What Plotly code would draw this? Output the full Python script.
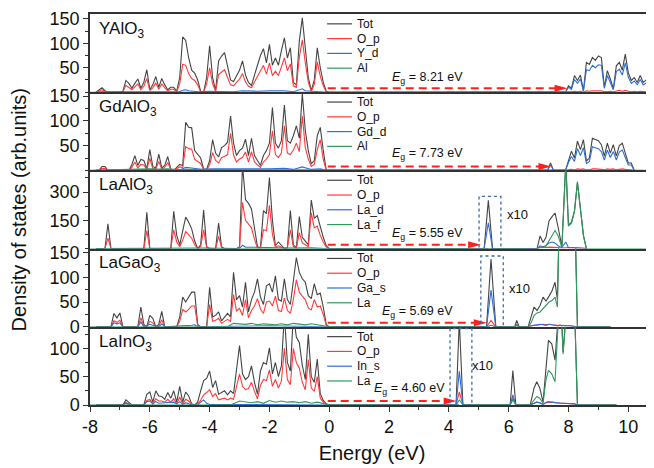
import plotly.graph_objects as go
from plotly.subplots import make_subplots

# ---------------- data ----------------
VB_E = [round(-7.8 + 0.1 * i, 1) for i in range(79)]  # valence-band energy grid (eV)

PANELS = ["YAlO<sub>3</sub>", "GdAlO<sub>3</sub>", "LaAlO<sub>3</sub>", "LaGaO<sub>3</sub>", "LaInO<sub>3</sub>"]
SERIES_NAMES = [["Tot", "O_p", "Y_d", "Al"], ["Tot", "O_p", "Gd_d", "Al"], ["Tot", "O_p", "La_d", "La_f"],
                ["Tot", "O_p", "Ga_s", "La"], ["Tot", "O_p", "In_s", "La"]]
EG = ["8.21", "7.73", "5.55", "5.69", "4.60"]

# ---- YAlO3
tot1_vb = [0, 5, 9, 3, 0, 0, 0, 0, 0,
           2, 24, 18, 8, 18, 27, 8, 20, 46, 5,
           15, 32, 10, 28, 15, 5, 10, 10, 2, 30,
           113, 106, 70, 45, 39, 25, 2, 0, 30, 95,
           30, 3, 64, 74, 81, 50, 25, 22, 35, 45,
           64, 35, 20, 14, 35, 55, 75, 89, 60, 98,
           55, 70, 55, 85, 111, 70, 91, 20, 15, 105,
           152, 90, 30, 3, 25, 91, 50, 20, 2, 0]
op1_vb = [0, 3, 5, 2, 0, 0, 0, 0, 0,
          1, 14, 10, 5, 11, 17, 5, 12, 28, 3,
          9, 19, 6, 17, 9, 3, 6, 6, 1, 17,
          57, 55, 38, 28, 24, 15, 1, 0, 17, 50,
          17, 2, 36, 42, 46, 30, 15, 13, 20, 27,
          38, 21, 12, 9, 21, 33, 45, 55, 37, 60,
          34, 43, 34, 53, 70, 44, 58, 13, 10, 72,
          107, 60, 20, 2, 16, 62, 33, 13, 1, 0]
x1_vb_e = [-7.8, -7.6, -6.8, -6.4, -6.1, -5.8, -5.0, -4.9, -4.8, -4.7, -4.4, -4.0, -3.6, -3.2, -2.9, -2.4, -2.0,
           -1.5, -1.2, -1.0, -0.9, -0.8, -0.4, -0.1]
x1_vb = [0, 1, 1, 1, 2, 1, 1, 4, 5, 3, 1, 2, 2, 1, 3, 2, 3, 3, 1, 4, 7, 3, 2, 0]
cb1_e = [7.9, 8.0, 8.1, 8.2, 8.3, 8.4, 8.5, 8.6, 8.7, 8.8, 8.9, 9.0, 9.1, 9.2, 9.3, 9.4, 9.5, 9.6, 9.7, 9.8,
         9.9, 10.0, 10.1, 10.2, 10.3, 10.4, 10.5, 10.6, 10.7]
tot1_cb = [0, 13, 8, 34, 24, 35, 3, 61, 57, 71, 65, 74, 71, 10, 44, 27, 7, 54, 61, 45, 78, 40, 24, 30, 20, 34, 20, 25, 3]
op1_cb = [0, 1, 1, 2, 1, 2, 0, 3, 2, 3, 3, 4, 3, 1, 2, 2, 1, 3, 4, 2, 4, 2, 1, 2, 1, 2, 1, 1, 0]
x1_cb = [0, 10, 6, 26, 18, 27, 2, 46, 44, 55, 50, 56, 55, 8, 34, 21, 5, 42, 47, 35, 60, 31, 18, 23, 15, 26, 15, 19, 2]
g1_e = [-8.0, -6.1, -4.8, -3.5, -2.0, -0.9, 0.0, 8.6, 9.0, 9.9, 10.86]
g1 = [0, 0, 1, 0, 1, 1, 0, 0, 1, 1, 0]

# ---- GdAlO3
tot2_vb = [0, 0, 8, 8, 0, 0, 0, 0, 0,
           0, 0, 0, 12, 30, 10, 22, 20, 3, 42,
           8, 5, 33, 5, 10, 28, 3, 0, 7, 12,
           10, 97, 87, 86, 40, 33, 25, 3, 2, 20,
           62, 35, 27, 46, 50, 57, 110, 55, 30, 40,
           45, 63, 30, 65, 30, 20, 10, 30, 40, 55,
           127, 55, 45, 60, 132, 60, 55, 70, 90, 65,
           155, 80, 40, 13, 20, 70, 87, 40, 0, 0]
op2_vb = [0, 0, 4, 4, 0, 0, 0, 0, 0,
          0, 0, 0, 6, 17, 5, 12, 11, 2, 24,
          4, 3, 18, 3, 6, 16, 2, 0, 4, 7,
          6, 48, 44, 43, 22, 18, 14, 2, 1, 11,
          36, 20, 15, 26, 28, 32, 75, 31, 17, 23,
          26, 37, 17, 38, 17, 11, 6, 17, 23, 32,
          80, 32, 26, 35, 90, 35, 32, 41, 55, 38,
          110, 46, 23, 8, 12, 42, 62, 22, 0, 0]
x2_vb_e = [-7.8, -6.5, -6.0, -5.7, -5.0, -4.8, -4.6, -4.3, -3.9, -3.3, -2.8, -2.0, -1.5, -1.2, -0.9, -0.6, -0.3, -0.1]
x2_vb = [0, 2, 3, 2, 1, 6, 5, 2, 3, 3, 2, 3, 4, 2, 7, 2, 3, 0]
cb2_e = [7.3, 7.4, 7.5, 7.9, 8.0, 8.1, 8.2, 8.3, 8.4, 8.5, 8.6, 8.7, 8.8, 8.9, 9.0, 9.1, 9.2, 9.3, 9.4, 9.5,
         9.6, 9.7, 9.8, 9.9, 10.0, 10.1, 10.2]
tot2_cb = [0, 15, 0, 0, 22, 39, 25, 59, 42, 62, 19, 25, 65, 62, 60, 52, 29, 55, 35, 52, 29, 50, 55, 35, 15, 15, 0]
op2_cb = [0, 1, 0, 0, 1, 2, 1, 3, 2, 3, 1, 1, 3, 3, 3, 2, 1, 3, 2, 3, 1, 2, 3, 2, 1, 1, 0]
x2_cb = [0, 12, 0, 0, 16, 28, 18, 44, 30, 46, 14, 18, 48, 46, 44, 38, 21, 41, 26, 38, 21, 37, 41, 26, 11, 11, 0]
g2_e = [-8.0, -6.5, -6.3, -6.0, -5.7, -5.4, -5.0, -4.8, -2.0, -0.9, 0.0, 10.86]
g2 = [0, 2, 3, 3, 2, 3, 1, 2, 1, 1, 0, 0]

# ---- LaAlO3
tot3_vb = [0, 0, 0, 0, 132, 0, 0, 0, 0,
           0, 0, 0, 0, 0, 0, 0, 0, 193, 0,
           0, 0, 0, 0, 0, 0, 0, 198, 70, 20,
           90, 167, 140, 105, 40, 0, 20, 205, 10, 0,
           0, 0, 135, 10, 0, 0, 0, 0, 0, 10,
           440, 260, 240, 210, 105, 10, 5, 202, 185, 377,
           150, 15, 35, 15, 0, 5, 202, 20, 5, 170,
           60, 40, 20, 258, 160, 175, 110, 60, 15, 0]
op3_vb = [0, 0, 0, 0, 56, 0, 0, 0, 0,
          0, 0, 0, 0, 0, 0, 0, 0, 95, 0,
          0, 0, 0, 0, 0, 0, 0, 100, 35, 10,
          45, 90, 75, 55, 20, 0, 10, 100, 5, 0,
          0, 0, 65, 5, 0, 0, 0, 0, 0, 5,
          245, 150, 130, 110, 50, 5, 2, 100, 95, 230,
          75, 7, 15, 7, 0, 2, 100, 10, 2, 85,
          30, 20, 10, 190, 110, 120, 70, 35, 8, 0]
x3_vb_e = [-7.8, -5.2, -4.8, -4.2, -3.0, -2.9, -2.8, -2.0, -1.3, -0.6, -0.1]
x3_vb = [0, 4, 3, 3, 0, 18, 8, 5, 3, 4, 0]
cb3_e = [5.18, 5.32, 5.46, 6.95, 7.05, 7.15, 7.25, 7.35, 7.45, 7.55, 7.65, 7.78, 7.91, 8.0, 8.1, 8.2, 8.3, 8.4,
         8.5, 8.6]
tot3_cb = [0, 256, 0, 0, 67, 32, 60, 147, 170, 189, 116, 10, 460, 123, 140, 200, 354, 210, 70, 0]
op3_cb = [0, 3, 0, 0, 8, 5, 6, 8, 8, 10, 6, 3, 6, 5, 5, 5, 5, 3, 2, 0]
x3_cb = [0, 137, 0, 0, 15, 10, 15, 30, 35, 30, 15, 5, 35, 5, 5, 5, 5, 3, 2, 0]
g3_cb = [0, 2, 0, 0, 5, 5, 15, 40, 70, 96, 70, 5, 450, 120, 135, 195, 350, 205, 68, 0]
g3_e = [-8.0, 0.0]
g3 = [0, 0]

# ---- LaGaO3
tot4_vb = [0, 0, 0, 0, 0, 0, 27, 18, 28,
           0, 0, 0, 0, 0, 0, 40, 5, 0, 23,
           17, 0, 5, 31, 0, 0, 0, 0, 0, 20,
           60, 50, 60, 70, 70, 5, 0, 0, 0, 80,
           20, 23, 30, 12, 20, 27, 20, 110, 55, 63,
           40, 90, 30, 55, 70, 97, 60, 45, 83, 87,
           70, 103, 55, 52, 97, 55, 45, 90, 140, 110,
           97, 90, 63, 57, 87, 65, 68, 40, 5, 0]
op4_vb = [0, 0, 0, 0, 0, 0, 12, 9, 13,
          0, 0, 0, 0, 0, 0, 18, 2, 0, 11,
          8, 0, 2, 14, 0, 0, 0, 0, 0, 11,
          35, 30, 35, 42, 42, 3, 0, 0, 0, 45,
          11, 13, 17, 7, 11, 15, 11, 65, 32, 37,
          23, 55, 18, 33, 42, 57, 36, 27, 50, 52,
          42, 62, 33, 31, 58, 33, 27, 55, 95, 70,
          62, 55, 38, 34, 55, 40, 42, 25, 3, 0]
x4_vb_e = [-7.8, -7.3, -7.2, -7.1, -7.0, -6.9, -6.4, -6.3, -6.2, -6.0, -5.9, -5.7, -5.6, -5.5, -4.6, -4.5, -4.4,
           -2.0, -0.1]
x4_vb = [0, 0, 8, 6, 8, 0, 0, 10, 0, 5, 3, 0, 6, 0, 3, 4, 0, 2, 0]
g4_e = [-8.0, -3.4, -3.2, -3.0, -2.8, -2.6, -2.4, -2.2, -2.0, -1.8, -1.6, -1.4, -1.2, -1.0, -0.8, -0.6, -0.4,
        -0.2, 0.0]
g4 = [0, 0, 7, 6, 5, 7, 4, 6, 5, 4, 6, 4, 7, 5, 4, 6, 4, 3, 0]
cb4_e = [5.26, 5.41, 5.57, 6.2, 6.27, 6.35, 6.65, 6.75, 6.85, 6.95, 7.05, 7.15, 7.25, 7.35, 7.45, 7.55, 7.63,
         7.72, 7.8, 7.9, 8.0, 8.1, 8.19, 8.3, 9.4]
tot4_cb = [0, 137, 0, 0, 13, 0, 0, 20, 40, 33, 43, 60, 52, 62, 73, 90, 55, 300, 400, 420, 400, 380, 300, 0, 0]
op4_cb = [0, 13, 0, 0, 2, 0, 0, 2, 3, 3, 4, 5, 4, 5, 4, 3, 3, 3, 3, 3, 2, 2, 1, 0, 0]
x4_cb = [0, 74, 0, 0, 3, 0, 0, 2, 3, 3, 5, 4, 3, 5, 4, 3, 2, 3, 2, 2, 2, 1, 1, 0, 0]
g4_cb = [0, 3, 0, 0, 5, 0, 0, 8, 23, 28, 30, 37, 45, 50, 53, 60, 40, 290, 390, 410, 390, 370, 290, 0, 0]

# ---- LaInO3
tot5_vb = [0, 0, 0, 0, 0, 0, 0, 0, 0,
           0, 9, 4, 0, 0, 0, 0, 0, 19, 23,
           5, 25, 16, 15, 10, 22, 12, 25, 5, 33,
           5, 23, 16, 2, 0, 5, 25, 43, 47, 60,
           31, 43, 19, 22, 25, 18, 25, 20, 60, 105,
           55, 45, 50, 69, 40, 19, 60, 75, 72, 101,
           55, 75, 50, 69, 160, 75, 60, 160, 120, 110,
           70, 45, 125, 50, 40, 81, 20, 8, 2, 0]
op5_vb = [0, 0, 0, 0, 0, 0, 0, 0, 0,
          0, 4, 2, 0, 0, 0, 0, 0, 8, 10,
          2, 11, 7, 7, 5, 10, 5, 11, 2, 14,
          2, 10, 7, 1, 0, 2, 8, 18, 22, 27,
          15, 20, 9, 11, 12, 9, 12, 10, 30, 55,
          33, 27, 29, 40, 24, 11, 35, 45, 43, 62,
          33, 45, 30, 42, 100, 45, 36, 100, 75, 65,
          40, 27, 80, 30, 24, 50, 12, 5, 1, 0]
x5_vb_e = [-7.8, -6.9, -6.8, -6.7, -6.2, -6.1, -6.0, -5.9, -5.8, -5.7, -5.5, -5.4, -5.2, -5.1, -5.0, -4.9, -4.8,
           -4.6, -4.4, -4.3, -4.2, -4.1, -4.0, -0.1]
x5_vb = [0, 0, 4, 0, 0, 6, 7, 2, 6, 3, 4, 4, 5, 2, 6, 1, 4, 0, 0, 5, 9, 3, 1, 0]
g5_e = [-8.0, -3.3, -3.0, -2.8, -2.6, -2.4, -2.2, -2.0, -1.8, -1.6, -1.4, -1.2, -1.0, -0.8, -0.6, -0.4, -0.2, 0.0]
g5 = [0, 0, 7, 5, 4, 6, 3, 8, 5, 7, 5, 6, 4, 6, 3, 5, 2, 0]
cb5_e = [4.24, 4.35, 4.47, 6.05, 6.14, 6.24, 6.72, 6.85, 6.94, 7.04, 7.15, 7.25, 7.33, 7.44, 7.55, 7.66, 7.75,
         7.82, 7.9, 8.0, 8.1, 8.2, 8.3, 9.6]
tot5_cb = [0, 150, 0, 0, 61, 0, 0, 30, 41, 30, 5, 70, 114, 108, 79, 160, 180, 93, 200, 220, 210, 180, 0, 0]
op5_cb = [0, 23, 0, 0, 13, 0, 0, 3, 5, 4, 1, 4, 5, 5, 4, 3, 3, 3, 3, 3, 2, 2, 0, 0]
x5_cb = [0, 60, 0, 0, 18, 0, 0, 3, 5, 4, 1, 5, 6, 5, 4, 4, 3, 3, 3, 2, 2, 2, 0, 0]
g5_cb = [0, 9, 0, 0, 9, 0, 0, 8, 15, 12, 3, 45, 61, 55, 41, 150, 175, 90, 195, 215, 205, 175, 0, 0]

# annotation values (data units of each panel)
Y_RANGES = [160, 158, 415, 158, 138]
Y_TICKS = [[50, 100, 150], [50, 100, 150], [150, 300], [0, 50, 100, 150], [0, 50, 100]]
Y_MINOR = [25, 25, 75, 25, 25]
ARROW_TIP = [7.97, 7.43, 5.08, 5.27, 4.26]
ARROW_Y = [8, 8, 21, 8, 7]
EG_POS = [(3.3, 30), (3.3, 33), (3.27, 75), (2.95, 30), (2.7, 28)]
BOXES = [None, None, (5.01, 5.74, 277), (5.07, 5.82, 143), (4.04, 4.77, 135)]
X10_POS = [None, None, (6.28, 181), (6.35, 77), (5.14, 70)]
X_TICKS = [-8, -6, -4, -2, 0, 2, 4, 6, 8, 10]

# ---------------- figure ----------------
FONT = "Liberation Sans, Arial, sans-serif"
C_TOT, C_OP, C_X, C_G = "#444444", "#ff3b3b", "#2f6fd8", "#2e9a5c"
COLORS = [C_TOT, C_OP, C_X, C_G]

panel_data = [
    (VB_E + cb1_e, tot1_vb + tot1_cb, VB_E + cb1_e, op1_vb + op1_cb, x1_vb_e + cb1_e, x1_vb + x1_cb, g1_e, g1),
    (VB_E + cb2_e, tot2_vb + tot2_cb, VB_E + cb2_e, op2_vb + op2_cb, x2_vb_e + cb2_e, x2_vb + x2_cb, g2_e, g2),
    (VB_E + cb3_e, tot3_vb + tot3_cb, VB_E + cb3_e, op3_vb + op3_cb, x3_vb_e + cb3_e, x3_vb + x3_cb,
     g3_e + cb3_e + [10.86], g3 + g3_cb + [0]),
    (VB_E + cb4_e, tot4_vb + tot4_cb, VB_E + cb4_e, op4_vb + op4_cb, x4_vb_e + cb4_e, x4_vb + x4_cb,
     g4_e + cb4_e, g4 + g4_cb),
    (VB_E + cb5_e, tot5_vb + tot5_cb, VB_E + cb5_e, op5_vb + op5_cb, x5_vb_e + cb5_e, x5_vb + x5_cb,
     g5_e + cb5_e, g5 + g5_cb),
]

fig = make_subplots(rows=5, cols=1, shared_xaxes=True, vertical_spacing=0)

PH = 79.4  # panel height in px (for legend row placement)
for i, d in enumerate(panel_data):
    r = i + 1
    sfx = "" if r == 1 else str(r)
    xr, yr, ydom = "x" + sfx, "y" + sfx, "y" + sfx + " domain"
    for k in range(4):
        fig.add_trace(go.Scatter(x=d[2 * k], y=d[2 * k + 1], mode="lines", name=SERIES_NAMES[i][k],
                                 line=dict(color=COLORS[k], width=1.1), showlegend=False,
                                 hoverinfo="skip"), row=r, col=1)
        yy = 1 - (10 + 15 * k) / PH
        fig.add_shape(type="line", xref=xr, yref=ydom, x0=-0.07, x1=0.76, y0=yy, y1=yy,
                      line=dict(color=COLORS[k], width=1.2))
        fig.add_annotation(xref=xr, yref=ydom, x=0.86, y=yy, text=SERIES_NAMES[i][k], showarrow=False,
                           xanchor="left", yanchor="middle", font=dict(family=FONT, size=12, color="#111"))
    # panel label
    fig.add_annotation(xref=xr, yref=ydom, x=-7.77, y=1 - 16 / PH, text=PANELS[i], showarrow=False,
                       xanchor="left", yanchor="middle", font=dict(family=FONT, size=17, color="#111"))
    # band gap arrow
    fig.add_shape(type="line", xref=xr, yref=yr, x0=-0.05, x1=ARROW_TIP[i] - 0.2, y0=ARROW_Y[i], y1=ARROW_Y[i],
                  line=dict(color="#ff1f1f", width=2, dash="8px,5px"))
    fig.add_shape(type="path", xref=xr, yref=yr, xsizemode="pixel", ysizemode="pixel",
                  xanchor=ARROW_TIP[i], yanchor=ARROW_Y[i], path="M-13,-3.5 L0,0 L-13,3.5 Z",
                  fillcolor="#ff1f1f", line=dict(width=0))
    fig.add_annotation(xref=xr, yref=yr, x=EG_POS[i][0], y=EG_POS[i][1],
                       text="<i>E</i><sub>g</sub> = " + EG[i] + " eV", showarrow=False,
                       font=dict(family=FONT, size=12.5, color="#111"))
    if BOXES[i]:
        b = BOXES[i]
        fig.add_shape(type="rect", xref=xr, yref=yr, x0=b[0], x1=b[1], y0=0, y1=b[2],
                      line=dict(color="#3d6aa8", width=1.3, dash="dot"))
        fig.add_annotation(xref=xr, yref=yr, x=X10_POS[i][0], y=X10_POS[i][1], text="x10", showarrow=False,
                           font=dict(family=FONT, size=13, color="#111"))
    fig.update_yaxes(row=r, col=1, range=[0, Y_RANGES[i]], tickmode="array", tickvals=Y_TICKS[i],
                     ticktext=[str(v) for v in Y_TICKS[i]], ticks="outside", ticklen=5, tickwidth=1.2,
                     tickcolor="#333", showline=True, linecolor="#333", linewidth=1.5, showgrid=False,
                     zeroline=False, tickfont=dict(family=FONT, size=18, color="#111"),
                     minor=dict(ticks="outside", ticklen=3, tickwidth=1, tickcolor="#333", dtick=Y_MINOR[i],
                                tick0=0, showgrid=False))
    fig.update_xaxes(row=r, col=1, range=[-8, 10.86], showline=True, linecolor="#333", linewidth=1.5,
                     showgrid=False, zeroline=False, mirror=(r == 1),
                     ticks="outside" if r == 5 else "", ticklen=5, tickwidth=1.2, tickcolor="#333")

fig.update_xaxes(row=5, col=1, tickmode="array", tickvals=X_TICKS, ticktext=[str(v) for v in X_TICKS],
                 showticklabels=True, tickfont=dict(family=FONT, size=18, color="#111"),
                 minor=dict(ticks="outside", ticklen=3, tickwidth=1, tickcolor="#333", dtick=1, tick0=0),
                 title=dict(text="Energy (eV)", font=dict(family=FONT, size=20, color="#111"), standoff=10))

fig.add_annotation(xref="paper", yref="paper", x=-0.126, y=0.5, text="Density of states (arb.units)",
                   textangle=-90, showarrow=False, xanchor="center", yanchor="middle",
                   font=dict(family=FONT, size=20, color="#111"))

# the page body adds an 8px offset, so the figure is sized/positioned to compensate
fig.update_layout(width=646, height=460, margin=dict(l=82, r=0, t=0, b=63),
                  paper_bgcolor="white", plot_bgcolor="white", showlegend=False,
                  font=dict(family=FONT, color="#111"))

fig.write_html("out.html")
